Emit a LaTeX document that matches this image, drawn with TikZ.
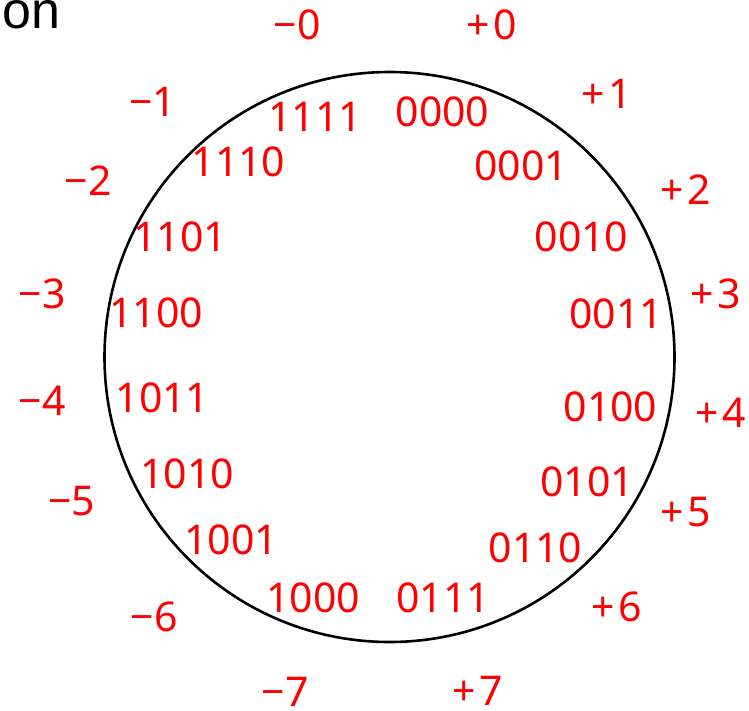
\documentclass[tikz,border=0pt]{standalone}
\usepackage{fontspec}
\setmainfont{Noto Sans}
\newfontfamily\onfont{Liberation Sans}
\newcommand{\pls}{+\kern4pt}
\begin{document}
\begin{tikzpicture}[x=1pt,y=-1pt,
  lbl/.style={text=red,inner sep=0pt,font=\fontsize{41}{41}\selectfont},
  ring/.style={draw=black,line width=2.6pt}]
\useasboundingbox (0,0) rectangle (749,710);
\node[anchor=base west,inner sep=0pt,font=\onfont\fontsize{52}{52}\selectfont] (on) at (2,28) {on};
\draw[ring] (389.5,357) circle[radius=285];
% inner codes
\node[lbl] (c1111) at (315,116.5) {1111};
\node[lbl] (c0000) at (442.5,112) {0000};
\node[lbl] (c1110) at (238.5,161.5) {1110};
\node[lbl] (c0001) at (521,166) {0001};
\node[lbl] (c1101) at (180,237) {1101};
\node[lbl] (c0010) at (581.5,237) {0010};
\node[lbl] (c1100) at (156,313) {1100};
\node[lbl] (c0011) at (616,313.5) {0011};
\node[lbl] (c1011) at (162.5,398) {1011};
\node[lbl] (c0100) at (610.5,407) {0100};
\node[lbl] (c1010) at (187,473.5) {1010};
\node[lbl] (c0101) at (587,482) {0101};
\node[lbl] (c1001) at (231,540) {1001};
\node[lbl] (c0110) at (535.5,548) {0110};
\node[lbl] (c1000) at (313,598) {1000};
\node[lbl] (c0111) at (443,598) {0111};
% outer values
\node[lbl] (m0) at (297,24.5) {−0};
\node[lbl] (p0) at (492,24.5) {\pls 0};
\node[lbl] (m1) at (152.5,102) {−1};
\node[lbl] (p1) at (607,93.5) {\pls 1};
\node[lbl] (m2) at (88,181) {−2};
\node[lbl] (p2) at (685.5,189.5) {\pls 2};
\node[lbl] (m3) at (42,293.5) {−3};
\node[lbl] (p3) at (715.5,293.5) {\pls 3};
\node[lbl] (m4) at (42,400.5) {−4};
\node[lbl] (p4) at (720.5,413) {\pls 4};
\node[lbl] (m5) at (71.5,501) {−5};
\node[lbl] (p5) at (686,512) {\pls 5};
\node[lbl] (m6) at (154,617) {−6};
\node[lbl] (p6) at (617,607) {\pls 6};
\node[lbl] (m7) at (285,692) {−7};
\node[lbl] (p7) at (477.5,691) {\pls 7};
\end{tikzpicture}
\end{document}
